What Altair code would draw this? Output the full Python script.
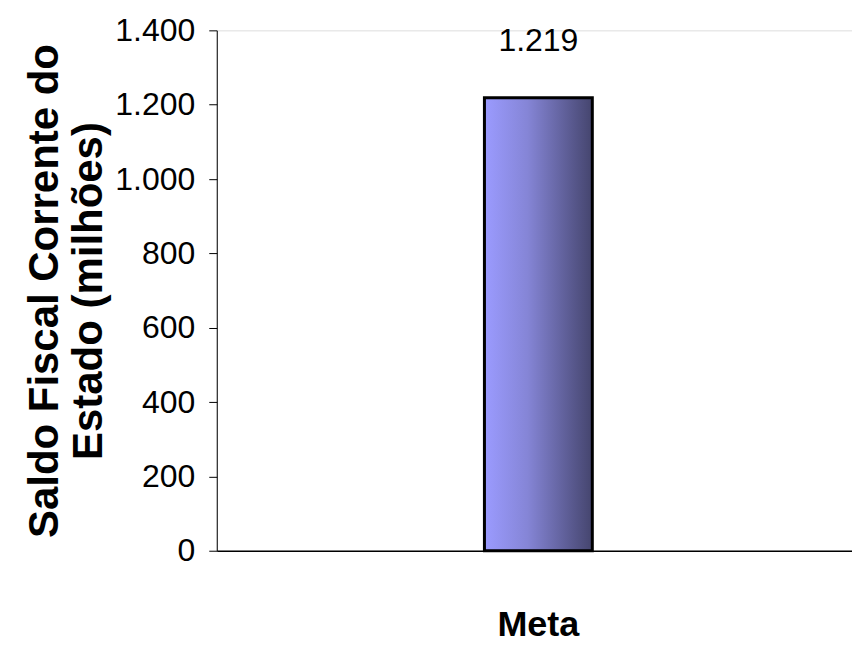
import altair as alt
import pandas as pd

categories = ["Meta"]
values = [1219]

df = pd.DataFrame({"cat": categories, "v": values})

SANS = "Liberation Sans"

grad = alt.Gradient(
    gradient="linear",
    stops=[
        alt.GradientStop(color="#9B9BFF", offset=0),
        alt.GradientStop(color="#8585D6", offset=0.4),
        alt.GradientStop(color="#45456E", offset=1),
    ],
    x1=0, x2=1, y1=0, y2=0,
)

base = alt.Chart(df).encode(
    x=alt.X(
        "cat:N",
        title=None,
        axis=alt.Axis(
            ticks=False,
            labelAngle=0,
            labelFont=SANS,
            labelFontSize=36,
            labelFontWeight="bold",
            labelColor="black",
            labelPadding=57,
            labelOffset=4,
            domainColor="black",
            domainWidth=1.5,
            grid=False,
        ),
    ),
    y=alt.Y(
        "v:Q",
        title=["Saldo Fiscal Corrente do", "Estado (milhões)"],
        scale=alt.Scale(domain=[0, 1400], nice=False),
        axis=alt.Axis(
            values=[0, 200, 400, 600, 800, 1000, 1200, 1400],
            labelExpr="replace(format(datum.value, ','), ',', '.')",
            labelFont=SANS,
            labelFontSize=32,
            labelColor="black",
            labelPadding=14,
            tickSize=8,
            tickColor="black",
            domainColor="black",
            grid=False,
            titleFont=SANS,
            titleFontSize=42,
            titleFontWeight="bold",
            titleColor="black",
            titleLineHeight=44,
            titlePadding=4,
        ),
    ),
)

bars = base.mark_bar(size=108, color=grad, stroke="black", strokeWidth=3, xOffset=4)

labels = base.transform_calculate(
    lab="replace(format(datum.v, ','), ',', '.')"
).mark_text(
    font=SANS, fontSize=32, color="black", baseline="alphabetic", dy=-47, dx=4
).encode(text="lab:N")

chart = (bars + labels).properties(
    width=636, height=521,
    padding={"left": 15, "top": 6, "right": 0, "bottom": 0},
).configure_view(stroke=None).configure(background="white")

chart.save("out.html", embed_options={"renderer": "svg", "actions": False})
